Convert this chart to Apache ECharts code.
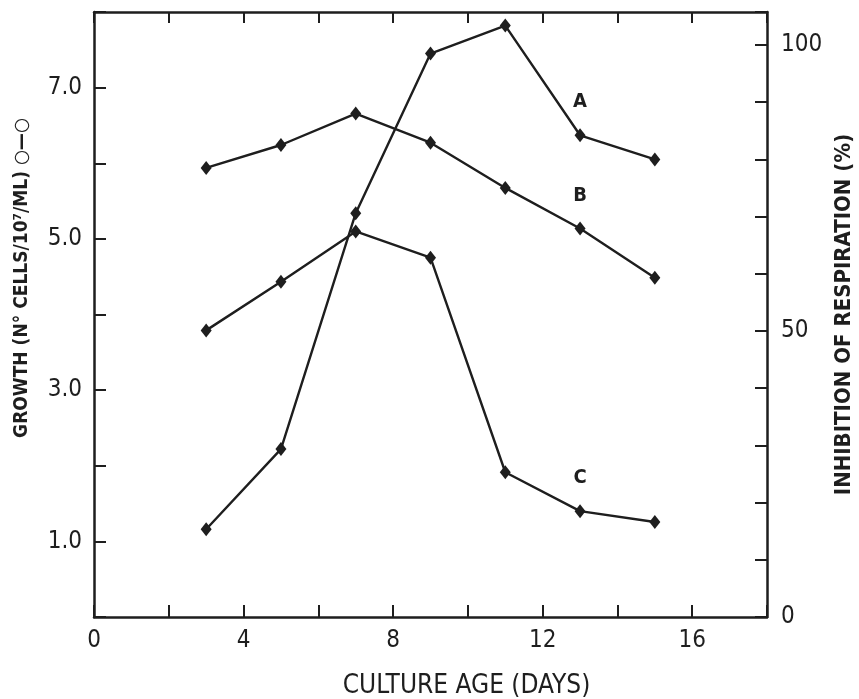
<!DOCTYPE html>
<html>
<head>
<meta charset="UTF-8">
<title>Culture age</title>
<script src="https://cdn.jsdelivr.net/npm/echarts@6.0.0/dist/echarts.min.js"></script>
<style>
  body { margin: 0; background: #fff; }
  #chart { width: 859px; height: 699px; }
</style>
</head>
<body>
<div id="chart"></div>
<script>
  // days of culture
  const days = [3, 5, 7, 9, 11, 13, 15];
  // curve A - growth, left axis
  const curveA = [1.16, 2.22, 5.34, 7.45, 7.82, 6.37, 6.05];
  // curves B, C - inhibition of respiration (%), right axis
  const curveB = [78.5, 82.5, 88.0, 82.9, 75.0, 67.9, 59.3];
  const curveC = [50.1, 58.6, 67.4, 62.8, 25.3, 18.5, 16.6];
  const curveNames = ['A', 'B', 'C'];
  const labelAt = 5; // curve letter placed above day 13

  const ink = '#1e1e1e';
  const font = 'DejaVu Sans Condensed';

  function pts(vals) {
    return days.map((d, i) => {
      const p = { value: [d, vals[i]] };
      if (i === labelAt) p.label = { show: true };
      return p;
    });
  }

  function line(name, vals, yIdx) {
    return {
      name: name,
      type: 'line',
      yAxisIndex: yIdx,
      data: pts(vals),
      symbol: 'diamond',
      symbolSize: [11, 14],
      itemStyle: { color: ink },
      lineStyle: { color: ink, width: 2.4 },
      label: {
        show: false, position: 'top', distance: 16,
        formatter: name, color: ink, fontFamily: font, fontWeight: 'bold', fontSize: 20
      },
      animation: false
    };
  }

  const tickStyle = { color: ink, width: 2 };
  const lineStyle = { color: ink, width: 2.5 };

  const chart = echarts.init(document.getElementById('chart'));
  chart.setOption({
    backgroundColor: '#fff',
    grid: { left: 94, right: 92, top: 12, bottom: 82, containLabel: false, outerBoundsMode: 'none' },
    xAxis: [{
      type: 'value', min: 0, max: 18, interval: 2, position: 'bottom',
      name: 'CULTURE AGE (DAYS)', nameLocation: 'middle', nameGap: 56,
      nameTextStyle: { color: ink, fontFamily: font, fontSize: 26, padding: [0, 0, 0, 72] },
      axisLine: { onZero: false, lineStyle: lineStyle },
      axisTick: { inside: true, length: 12, lineStyle: tickStyle },
      axisLabel: {
        color: ink, fontFamily: font, fontSize: 24, margin: 12,
        formatter: v => (v % 4 === 0 && v <= 16) ? String(v) : ''
      },
      splitLine: { show: false }
    }, {
      type: 'value', min: 0, max: 18, interval: 2, position: 'top',
      axisLine: { onZero: false, lineStyle: lineStyle },
      axisTick: { inside: true, length: 11, lineStyle: tickStyle },
      axisLabel: { show: false },
      splitLine: { show: false }
    }],
    yAxis: [{
      type: 'value', min: 0, max: 8, interval: 1, position: 'left',
      axisLine: { show: true, onZero: false, lineStyle: lineStyle },
      axisTick: { show: true, inside: true, length: 12, lineStyle: tickStyle },
      axisLabel: {
        color: ink, fontFamily: font, fontSize: 24, margin: 12,
        formatter: v => (v % 2 === 1) ? v.toFixed(1) : ''
      },
      splitLine: { show: false }
    }, {
      type: 'value', min: 0, max: 105.75, interval: 10, position: 'right',
      name: 'INHIBITION OF RESPIRATION (%)', nameLocation: 'middle', nameRotate: 90, nameGap: 66,
      nameTextStyle: { color: ink, fontFamily: font, fontSize: 22, fontWeight: 'bold' },
      axisLine: { show: true, onZero: false, lineStyle: lineStyle },
      axisTick: { show: true, inside: true, length: 12, lineStyle: tickStyle },
      axisLabel: {
        color: ink, fontFamily: font, fontSize: 24, margin: 14,
        formatter: v => (v % 50 === 0) ? String(v) : ''
      },
      splitLine: { show: false }
    }],
    graphic: [{
      type: 'text', x: 22, y: 278, rotation: Math.PI / 2,
      style: {
        text: 'GROWTH (N\u00B0 CELLS/10\u2077/ML) \u25CB\u2014\u25CB',
        fill: ink, font: 'bold 19px "' + font + '"',
        textAlign: 'center', textVerticalAlign: 'middle'
      }
    }],
    series: [
      line(curveNames[0], curveA, 0),
      line(curveNames[1], curveB, 1),
      line(curveNames[2], curveC, 1)
    ]
  });
</script>
</body>
</html>
